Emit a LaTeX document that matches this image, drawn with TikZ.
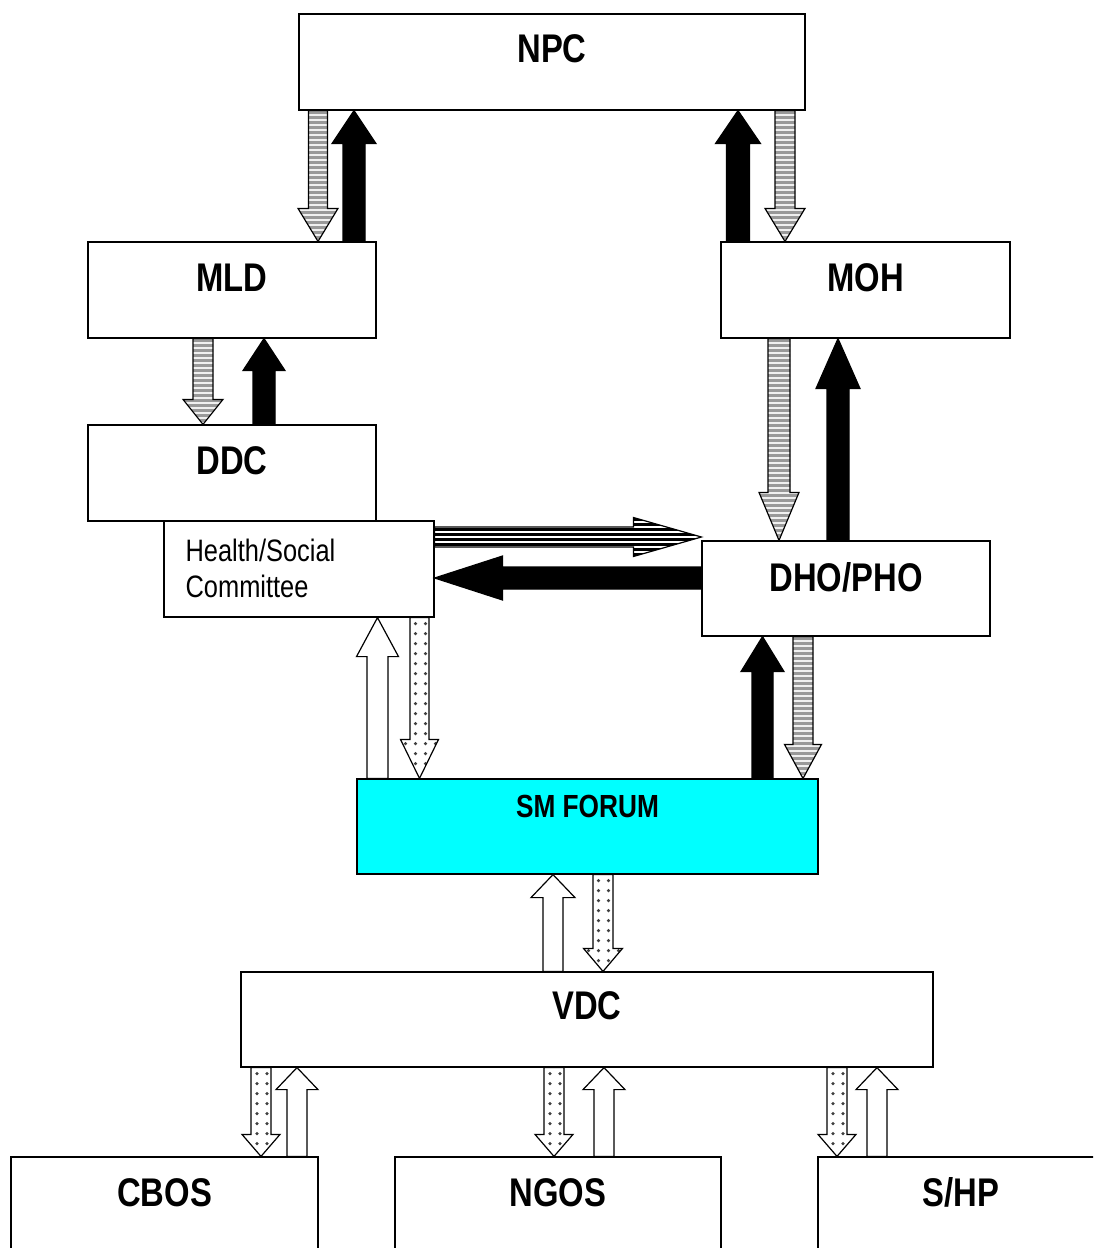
\documentclass[tikz,border=0pt]{standalone}
\usepackage{fontspec}
\setmainfont[FakeStretch=0.82]{Liberation Sans}
\usepackage{tikz}
\usetikzlibrary{calc}
\definecolor{smcyan}{RGB}{0,255,255}

% block arrow: style, from, to, half shaft, half head, head length
\newcommand{\barrow}[6]{%
	\coordinate (ba-a) at #2;
	\coordinate (ba-b) at #3;
	\coordinate (ba-h) at ($(ba-b)!#6!(ba-a)$);
	\draw[#1] ($(ba-a)!#4!90:(ba-b)$) -- ($(ba-h)!#4!90:(ba-b)$) -- ($(ba-h)!#5!90:(ba-b)$)
		-- (ba-b) -- ($(ba-h)!#5!-90:(ba-b)$) -- ($(ba-h)!#4!-90:(ba-b)$) -- ($(ba-a)!#4!-90:(ba-b)$) -- cycle;
}

\begin{document}
\begin{tikzpicture}[
			x=1pt, y=-1pt,
			box/.style={draw=black, line width=1.2pt, fill=white, inner sep=0pt},
			lbl/.style={font=\fontsize{40}{48}\selectfont\bfseries, anchor=base, inner sep=0pt},
			blkarr/.style={draw=black, line width=1.2pt, fill=black},
			stripes/.style 2 args={path picture={
				\foreach \k in {0,...,45}{
					\draw[#1, line width=#2] ([yshift=-\k*5pt-2pt]path picture bounding box.north west)
						-- ([yshift=-\k*5pt-2pt]path picture bounding box.north east);
				}}},
			grayarr/.style={draw=black, line width=1.2pt, fill=gray!12, stripes={gray!80}{2.6pt}},
			linearr/.style={draw=black, line width=1.2pt, fill=white, stripes={black}{2.4pt}},
			dotarr/.style={draw=black, line width=1.2pt, fill=white, path picture={
				\foreach \k in {0,...,20}{
					\foreach \j in {0,...,3}{
						\fill[black!75] ([xshift=\j*10pt+5pt, yshift=-\k*10pt-6pt]path picture bounding box.north west)
							circle[radius=1.8pt];
					}}}},
			openarr/.style={draw=black, line width=1.2pt, fill=white}
			]
			\useasboundingbox (0,0) rectangle (1093,1248);
			\clip (0,0) rectangle (1093,1248);
			% boxes
			\node[box, minimum width=506pt, minimum height=96pt] (npc) at (552,62) {};
			\node[box, minimum width=288pt, minimum height=96pt] (mld) at (232,290) {};
			\node[box, minimum width=289pt, minimum height=96pt] (moh) at (865.5,290) {};
			\node[box, minimum width=288pt, minimum height=96pt] (ddc) at (232,473) {};
			\node[box, minimum width=270pt, minimum height=96pt] (hsc) at (299,569) {};
			\node[box, minimum width=288pt, minimum height=95pt] (dho) at (846,588.5) {};
			\node[box, fill=smcyan, minimum width=461pt, minimum height=95pt] (sm) at (587.5,826.5) {};
			\node[box, minimum width=692pt, minimum height=95pt] (vdc) at (587,1019.5) {};
			\node[box, minimum width=307pt, minimum height=96pt] (cbos) at (164.5,1205) {};
			\node[box, minimum width=326pt, minimum height=96pt] (ngos) at (558,1205) {};
			\node[box, minimum width=286pt, minimum height=96pt] (shp) at (961,1205) {};
			% labels
			\foreach \n/\t/\d in {npc/NPC/49, mld/MLD/50, moh/MOH/50, ddc/DDC/50, dho/DHO\slash PHO/51,
				vdc/VDC/48, cbos/CBOS/50, ngos/NGOS/50, shp/S\slash HP/50}{
				\node[lbl] (\n-t) at ([yshift=-\d pt]\n.north) {\t};
			}
			\node[font=\fontsize{32}{36}\selectfont\bfseries, anchor=base, inner sep=0pt] (sm-t)
				at ([yshift=-39pt]sm.north) {SM FORUM};
			\node[font=\fontsize{31}{36}\selectfont, align=left, anchor=north west, inner sep=0pt] (hsc-t)
				at ([xshift=22pt, yshift=-18pt]hsc.north west) {Health/Social\\Committee};
			% NPC <-> MLD, MOH
			\barrow{grayarr}{(318,0 |- npc.south)}{(318,0 |- mld.north)}{9.5pt}{20pt}{33pt}
			\barrow{blkarr}{(354,0 |- mld.north)}{(354,0 |- npc.south)}{11pt}{22pt}{33pt}
			\barrow{blkarr}{(738,0 |- moh.north)}{(738,0 |- npc.south)}{11.5pt}{22.5pt}{33pt}
			\barrow{grayarr}{(785,0 |- npc.south)}{(785,0 |- moh.north)}{10pt}{20pt}{33pt}
			% MLD <-> DDC
			\barrow{grayarr}{(203,0 |- mld.south)}{(203,0 |- ddc.north)}{10pt}{20pt}{25pt}
			\barrow{blkarr}{(264,0 |- ddc.north)}{(264,0 |- mld.south)}{11pt}{21pt}{32pt}
			% MOH <-> DHO
			\barrow{grayarr}{(779,0 |- moh.south)}{(779,0 |- dho.north)}{11pt}{20pt}{48pt}
			\barrow{blkarr}{(838,0 |- dho.north)}{(838,0 |- moh.south)}{11pt}{22pt}{50pt}
			% committee <-> DHO
			\barrow{linearr}{(hsc.east |- 0,537)}{(dho.west |- 0,537)}{10pt}{19.5pt}{68pt}
			\barrow{blkarr}{(dho.west |- 0,578)}{(hsc.east |- 0,578)}{11pt}{22pt}{68pt}
			% SM forum
			\barrow{openarr}{(377.5,0 |- sm.north)}{(377.5,0 |- hsc.south)}{10.5pt}{21pt}{39pt}
			\barrow{dotarr}{(419.5,0 |- hsc.south)}{(419.5,0 |- sm.north)}{9.5pt}{19pt}{39pt}
			\barrow{blkarr}{(762.5,0 |- sm.north)}{(762.5,0 |- dho.south)}{10.5pt}{21.5pt}{35pt}
			\barrow{grayarr}{(803,0 |- dho.south)}{(803,0 |- sm.north)}{10pt}{18.5pt}{34pt}
			\barrow{openarr}{(553,0 |- vdc.north)}{(553,0 |- sm.south)}{10pt}{22pt}{23pt}
			\barrow{dotarr}{(603,0 |- sm.south)}{(603,0 |- vdc.north)}{10pt}{19.5pt}{23pt}
			% VDC <-> bottom row
			\foreach \n/\dn/\up in {cbos/261/297, ngos/554/604, shp/837/877}{
				\barrow{dotarr}{(\dn,0 |- vdc.south)}{(\dn,0 |- \n.north)}{10pt}{19pt}{22pt}
				\barrow{openarr}{(\up,0 |- \n.north)}{(\up,0 |- vdc.south)}{10pt}{21pt}{22pt}
			}
		\end{tikzpicture}
\end{document}
